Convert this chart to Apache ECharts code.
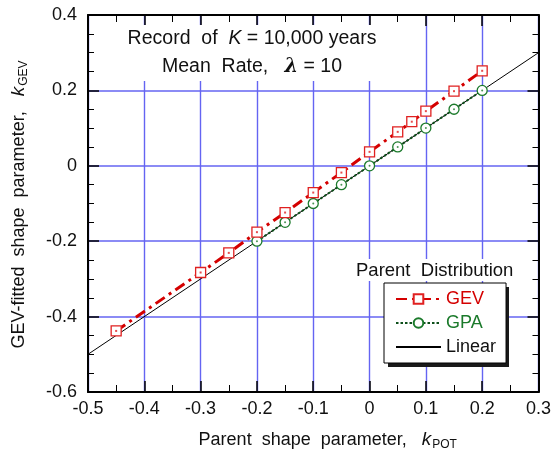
<!DOCTYPE html>
<html>
<head>
<meta charset="utf-8">
<script src="https://cdn.jsdelivr.net/npm/echarts@6/dist/echarts.min.js"></script>
<style>
  html, body { margin: 0; padding: 0; background: #fff; }
  #chart { width: 554px; height: 457px; }
</style>
</head>
<body>
<div id="chart"></div>
<script>
// Parent shape parameter k_POT vs GEV-fitted shape parameter k_GEV
const gevX = [-0.45, -0.3, -0.25, -0.2, -0.15, -0.1, -0.05, 0, 0.05, 0.075, 0.1, 0.15, 0.2];
const gevY = [-0.438, -0.283, -0.231, -0.176, -0.124, -0.071, -0.018, 0.037, 0.09, 0.117, 0.145, 0.198, 0.252];
const gpaX = [-0.2, -0.15, -0.1, -0.05, 0, 0.05, 0.1, 0.15, 0.2];
const gpaY = [-0.2, -0.15, -0.1, -0.05, 0, 0.05, 0.1, 0.15, 0.2];
const linearX = [-0.5, 0.3];
const linearY = [-0.5, 0.3];

const xTicks = { min: -0.5, max: 0.3, interval: 0.1 };
const yTicks = { min: -0.6, max: 0.4, interval: 0.2 };

const FONT = 'Liberation Sans, Arial, sans-serif';
const RED = '#d40000';
const GREEN = '#1b7a2b';
const GRID_BLUE = '#6464f2';

const zip = (xs, ys) => xs.map((x, i) => [x, ys[i]]);

const chart = echarts.init(document.getElementById('chart'), null, { renderer: 'canvas' });

const axisBase = {
  type: 'value',
  axisLine: { show: true, onZero: false, lineStyle: { color: '#000', width: 2 } },
  axisTick: { show: true, inside: true, length: 11, lineStyle: { color: '#000', width: 1.5 } },
  minorTick: { show: true, length: 6, lineStyle: { color: '#000', width: 1 } },
};

// legend box geometry (used for the drop shadow behind it)
const legendBox = { left: 384, top: 283, width: 121, height: 80 };

const nameRich = {
  t: { fontFamily: FONT, fontSize: 18, color: '#111' },
  k: { fontFamily: FONT, fontSize: 19, color: '#111', fontStyle: 'italic' },
  s: { fontFamily: FONT, fontSize: 12, color: '#111', padding: [10, 0, 0, 1] }
};

const option = {
  backgroundColor: '#fff',
  animation: false,
  title: [
    {
      text: '{n|Record  of  }{i|K}{n| = 10,000 years}\n{n|Mean  Rate,   }{b|λ}{n| = 10}',
      left: 234,
      top: 21,
      padding: [4, 18, 4, 18],
      backgroundColor: '#fff',
      textAlign: 'center',
      textStyle: {
        rich: {
          n: { fontFamily: FONT, fontSize: 19.5, fontWeight: 'normal', color: '#111', lineHeight: 28 },
          i: { fontFamily: FONT, fontSize: 19.5, fontWeight: 'normal', color: '#111', fontStyle: 'italic', lineHeight: 28 },
          b: { fontFamily: 'DejaVu Serif, serif', fontSize: 19.5, color: '#111', fontStyle: 'italic', fontWeight: 'bold', lineHeight: 28 }
        }
      }
    },
    {
      text: 'Parent  Distribution',
      left: 352,
      top: 259,
      z: 5,
      padding: [2, 4, 1, 4],
      backgroundColor: '#fff',
      textStyle: { fontFamily: FONT, fontSize: 18.5, fontWeight: 'normal', color: '#111' }
    }
  ],
  graphic: [
    {
      type: 'rect',
      z: 3,
      shape: { x: legendBox.left + 4, y: legendBox.top + 4, width: legendBox.width, height: legendBox.height },
      style: { fill: '#1a1a1a' },
      silent: true
    }
  ],
  legend: {
    orient: 'vertical',
    left: legendBox.left,
    top: legendBox.top,
    padding: [6, 10, 6, 11],
    itemWidth: 45,
    itemHeight: 12,
    itemGap: 4,
    backgroundColor: '#fff',
    borderColor: '#000',
    borderWidth: 1,
    z: 8,
    data: [
      { name: 'GEV', textStyle: { color: RED } },
      { name: 'GPA', textStyle: { color: GREEN } },
      { name: 'Linear', textStyle: { color: '#111' }, itemStyle: { opacity: 0 } }
    ],
    textStyle: { fontFamily: FONT, fontSize: 18, lineHeight: 20 }
  },
  grid: { left: 88, right: 14, top: 15, bottom: 65 },
  xAxis: [
    Object.assign({}, axisBase, {
      position: 'bottom',
      min: xTicks.min, max: xTicks.max, interval: xTicks.interval,
      minorTick: Object.assign({}, axisBase.minorTick, { splitNumber: 2, length: 7 }),
      splitLine: { show: true, lineStyle: { color: GRID_BLUE, width: 1.4 } },
      axisLabel: { fontFamily: FONT, fontSize: 18, color: '#111', margin: 8 },
      name: '{t|Parent  shape  parameter,   }{k|k}{s|POT}',
      nameLocation: 'middle',
      nameGap: 37,
      nameTextStyle: { padding: [0, 0, 0, 29], rich: nameRich }
    }),
    Object.assign({}, axisBase, {
      position: 'top',
      min: xTicks.min, max: xTicks.max, interval: xTicks.interval,
      minorTick: Object.assign({}, axisBase.minorTick, { splitNumber: 2, length: 7 }),
      splitLine: { show: false },
      axisLabel: { show: false }
    })
  ],
  yAxis: [
    Object.assign({}, axisBase, {
      position: 'left',
      min: yTicks.min, max: yTicks.max, interval: yTicks.interval,
      minorTick: Object.assign({}, axisBase.minorTick, { splitNumber: 4, length: 6 }),
      splitLine: { show: true, lineStyle: { color: GRID_BLUE, width: 1.6 } },
      axisLabel: { fontFamily: FONT, fontSize: 18, color: '#111', margin: 11 },
      name: '{t|GEV-fitted  shape  parameter,   }{k|k}{s|GEV}',
      nameLocation: 'middle',
      nameRotate: 90,
      nameGap: 58,
      nameTextStyle: { padding: [0, 2, 0, 0], rich: nameRich }
    }),
    Object.assign({}, axisBase, {
      position: 'right',
      min: yTicks.min, max: yTicks.max, interval: yTicks.interval,
      minorTick: Object.assign({}, axisBase.minorTick, { splitNumber: 4, length: 6 }),
      splitLine: { show: false },
      axisLabel: { show: false }
    })
  ],
  series: [
    {
      name: 'Linear',
      type: 'line',
      data: zip(linearX, linearY),
      symbol: 'none',
      lineStyle: { color: '#000', width: 1 },
      itemStyle: { color: '#000' },
      z: 2
    },
    {
      name: 'GPA',
      type: 'line',
      data: zip(gpaX, gpaY),
      symbol: 'circle',
      symbolSize: 10,
      showAllSymbol: true,
      lineStyle: { color: '#0d4f1a', width: 2, type: [2.5, 2] },
      itemStyle: { color: '#fff', borderColor: GREEN, borderWidth: 1.3 },
      z: 3
    },
    {
      name: 'GEV',
      type: 'line',
      data: zip(gevX, gevY),
      symbol: 'rect',
      symbolSize: 10,
      showAllSymbol: true,
      lineStyle: { color: RED, width: 3, type: [11, 5, 3, 5] },
      itemStyle: { color: '#fff', borderColor: '#e02020', borderWidth: 1.3 },
      z: 4
    },
    // centre dots inside the hollow markers
    {
      type: 'scatter',
      data: zip(gpaX, gpaY),
      symbol: 'circle',
      symbolSize: 2,
      itemStyle: { color: GREEN },
      silent: true,
      z: 5
    },
    {
      type: 'scatter',
      data: zip(gevX, gevY),
      symbol: 'rect',
      symbolSize: 2,
      itemStyle: { color: '#e02020' },
      silent: true,
      z: 5
    }
  ]
};

chart.setOption(option);
</script>
</body>
</html>
